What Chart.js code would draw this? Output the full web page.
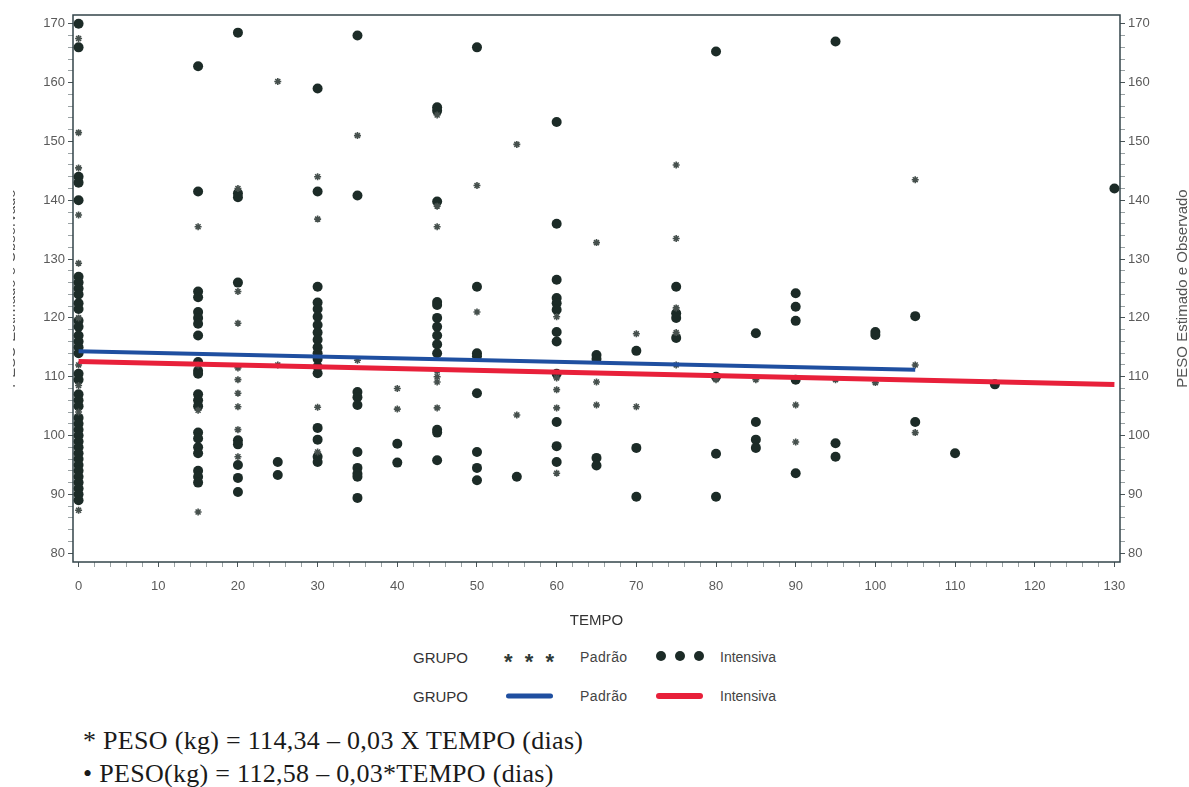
<!DOCTYPE html>
<html>
<head>
<meta charset="utf-8">
<script src="https://cdn.jsdelivr.net/npm/chart.js@4.4.0/dist/chart.umd.min.js"></script>
<style>
  body { margin: 0; background: #fff; width: 1189px; height: 787px; overflow: hidden; position: relative;
         font-family: "Liberation Sans", Arial, sans-serif; }
  #wrap { position: absolute; left: 0; top: 0; width: 1189px; height: 640px; }
  .lg { position: absolute; color: #333; line-height: 1; white-space: nowrap; transform: translateY(-50%); }
  .grupo { font-size: 15px; }
  .nome { font-size: 14px; color: #444; }
  .pad { letter-spacing: 0.4px; }
  .sym { font-size: 22px; font-weight: bold; color: #2f3a37; }
  .dot { position: absolute; width: 10px; height: 10px; border-radius: 50%; background: #1c2b27; transform: translate(-50%, -50%); }
  .ln { position: absolute; transform: translateY(-50%); border-radius: 3px; }
  .eq { position: absolute; left: 83px; font-family: "Liberation Serif", "Times New Roman", serif; font-size: 26px;
        letter-spacing: 0.3px; color: #1a1a1a; line-height: 1; transform: translateY(-50%); white-space: nowrap; }
</style>
</head>
<body>
<div id="wrap"><canvas id="grafico" width="1189" height="640"></canvas></div>

<!-- legenda -->
<div class="lg grupo" style="left:413px; top:657px;">GRUPO</div>
<div class="lg sym" style="left:504px; top:662px;">*&nbsp;&nbsp;*&nbsp;&nbsp;*</div>
<div class="lg nome pad" style="left:580px; top:657px;">Padrão</div>
<div class="dot" style="left:661px; top:656px;"></div>
<div class="dot" style="left:680px; top:656px;"></div>
<div class="dot" style="left:699px; top:656px;"></div>
<div class="lg nome" style="left:720px; top:657px;">Intensiva</div>

<div class="lg grupo" style="left:413px; top:696px;">GRUPO</div>
<div class="ln" style="left:506px; top:696px; width:47px; height:5px; background:#1f4fa0;"></div>
<div class="lg nome pad" style="left:580px; top:696px;">Padrão</div>
<div class="ln" style="left:656px; top:696px; width:47px; height:6px; background:#e8203a;"></div>
<div class="lg nome" style="left:720px; top:696px;">Intensiva</div>

<div class="eq" style="top:741px;">* PESO (kg) = 114,34 – 0,03 X TEMPO (dias)</div>
<div class="eq" style="top:774px;">• PESO(kg) = 112,58 – 0,03*TEMPO (dias)</div>

<script>
// Tempos observados (dias)
const tempos = [0, 15, 20, 25, 30, 35, 40, 45, 50, 55, 60, 65, 70, 75, 80, 85, 90, 95, 100, 105, 110, 115, 130];

// PESO observado, grupo Padrão (um vetor por tempo)
const pesoPadrao = [
    [167.5, 151.5, 145.5, 137.5, 129.3, 120, 112, 108.5, 104, 87.3],
    [135.5, 112, 104.3, 87],
    [142, 124.5, 119.1, 111.5, 109.5, 107.2, 104.9, 101, 96.4],
    [160.2, 112],
    [144, 136.8, 104.8, 97.2],
    [151, 112.8],
    [108, 104.5],
    [154.5, 139, 135.5, 111, 110, 109.1, 104.7],
    [142.5, 121],
    [149.5, 103.5],
    [120.2, 109.8, 107.8, 104.7, 93.6],
    [132.8, 109.1, 105.2],
    [117.3, 104.9],
    [146, 133.5, 121.7, 117.5, 112],
    [109.5],
    [109.5],
    [105.2, 98.9],
    [109.5],
    [109],
    [143.5, 112, 100.5],
    [],
    [],
    []
];

// PESO observado, grupo Intensiva
const pesoIntensiva = [
    [170, 166, 144, 143, 140, 127, 126, 125, 124, 122.5, 121.5, 119.5, 118.5, 117, 116, 115, 114, 110.5, 109.5,
     107, 106, 105, 103, 102, 101, 100, 99, 98, 97, 96, 95, 94, 93, 92, 91, 90, 89],
    [162.8, 141.5, 124.5, 123.5, 121, 120, 119, 117, 112.5, 111, 110.5, 107, 106, 105, 100.5, 99.5, 98, 97, 94, 93, 92],
    [168.5, 141.2, 140.5, 126, 99.2, 98.5, 95, 92.8, 90.4],
    [95.5, 93.3],
    [159, 141.5, 125.3, 122.6, 121.5, 120.2, 118.8, 117.5, 116.3, 115, 114, 113, 111.7, 110.6, 101.3, 99.3, 96.4, 95.5],
    [168, 140.8, 107.4, 106.5, 105.2, 97.2, 94.5, 93.5, 93, 89.4],
    [98.6, 95.4],
    [155.8, 155.2, 139.8, 122.7, 122.2, 120, 118.5, 117, 115.5, 114, 101, 100.5, 95.8],
    [166, 125.3, 114, 113.5, 107.2, 97.2, 94.5, 92.4],
    [93],
    [153.3, 136, 126.5, 123.4, 122.5, 121.4, 117.6, 116, 110.5, 102.3, 98.2, 95.5],
    [113.7, 113, 96.2, 94.9],
    [114.4, 97.9, 89.6],
    [125.3, 120.8, 120, 116.6],
    [165.3, 110, 96.9, 89.6],
    [117.4, 102.3, 99.3, 97.9],
    [124.2, 121.9, 119.5, 109.5, 93.6],
    [167, 98.7, 96.4],
    [117.6, 117.1],
    [120.3, 102.3],
    [97],
    [108.7],
    [142]
];

// Retas estimadas
const retaPadraoTempo = [0, 105];
const retaPadraoPeso = [114.34, 111.19];
const retaIntensivaTempo = [0, 130];
const retaIntensivaPeso = [112.58, 108.68];

// Rótulos dos eixos
const xTicks = [0, 10, 20, 30, 40, 50, 60, 70, 80, 90, 100, 110, 120, 130];
const yTicks = [80, 90, 100, 110, 120, 130, 140, 150, 160, 170];
const tituloY = 'PESO Estimado e Observado';

const fonte = '"Liberation Sans", Arial, sans-serif';

function pontos(pesos) {
    const out = [];
    pesos.forEach((lista, i) => lista.forEach(p => out.push({ x: tempos[i], y: p })));
    return out;
}

function reta(xs, ys) {
    return xs.map((x, i) => ({ x, y: ys[i] }));
}

// ticks menores a cada 2 unidades
function menores(a, b) {
    return scale => {
        const t = [];
        for (let v = a; v <= b; v += 2) t.push({ value: v });
        scale.ticks = t;
    };
}

const gradeEixo = {
    drawOnChartArea: false,
    drawTicks: true,
    tickLength: 5,
    tickColor: c => (c.tick && c.tick.value % 10 === 0) ? '#4a5558' : '#9aa2a4',
    tickWidth: 1
};

const moldura = {
    id: 'moldura',
    beforeDatasetsDraw(chart) {
        const { ctx, chartArea: a } = chart;
        ctx.save();
        ctx.strokeStyle = '#33444a';
        ctx.lineWidth = 1.5;
        ctx.strokeRect(a.left, a.top, a.right - a.left, a.bottom - a.top);
        ctx.restore();
    }
};

const titulosLaterais = {
    id: 'titulosLaterais',
    afterDraw(chart) {
        const { ctx, chartArea: a } = chart;
        const cy = (a.top + a.bottom) / 2;
        ctx.save();
        ctx.font = '15px ' + fonte;
        ctx.fillStyle = '#555';
        ctx.textAlign = 'center';
        ctx.textBaseline = 'middle';
        ctx.save();
        ctx.translate(1183, cy);
        ctx.rotate(-Math.PI / 2);
        ctx.fillText(tituloY, 0, 0);
        ctx.restore();
        // título da esquerda aparece cortado
        ctx.save();
        ctx.beginPath();
        ctx.rect(13, 0, 30, chart.height);
        ctx.clip();
        ctx.translate(11, cy);
        ctx.rotate(-Math.PI / 2);
        ctx.fillText(tituloY, 0, 0);
        ctx.restore();
        ctx.restore();
    }
};

const eixoY = (pos, largura) => ({
    type: 'linear',
    position: pos,
    min: 78.5,
    max: 171.5,
    afterBuildTicks: menores(80, 170),
    afterFit: s => { s.width = largura; },
    ticks: {
        autoSkip: false,
        padding: 3,
        color: '#5a5a5a',
        font: { family: fonte, size: 13 },
        callback: v => yTicks.includes(v) ? String(v) : ''
    },
    grid: gradeEixo,
    border: { display: false }
});

const ctx = document.getElementById('grafico').getContext('2d');

new Chart(ctx, {
    type: 'scatter',
    data: {
        datasets: [
            {
                label: 'Padrão (estimado)',
                data: reta(retaPadraoTempo, retaPadraoPeso),
                showLine: true,
                borderColor: '#1f4fa0',
                borderWidth: 4,
                pointRadius: 0,
                order: 0
            },
            {
                label: 'Intensiva (estimado)',
                data: reta(retaIntensivaTempo, retaIntensivaPeso),
                showLine: true,
                borderColor: '#e8203a',
                borderWidth: 5,
                pointRadius: 0,
                order: 0
            },
            {
                label: 'Padrão',
                data: pontos(pesoPadrao),
                pointStyle: 'star',
                pointRadius: 3.5,
                borderWidth: 1.6,
                borderColor: '#46504d',
                backgroundColor: '#46504d',
                order: 1
            },
            {
                label: 'Intensiva',
                data: pontos(pesoIntensiva),
                pointStyle: 'circle',
                pointRadius: 5,
                borderWidth: 0,
                backgroundColor: '#1c2b27',
                order: 1
            }
        ]
    },
    options: {
        responsive: false,
        animation: false,
        layout: { padding: { top: 15, left: 0, right: 0, bottom: 0 } },
        plugins: {
            legend: { display: false },
            tooltip: { enabled: false }
        },
        scales: {
            x: {
                type: 'linear',
                position: 'bottom',
                min: -0.7,
                max: 130.7,
                afterBuildTicks: menores(0, 130),
                afterFit: s => { s.height = 78; },
                ticks: {
                    autoSkip: false,
                    maxRotation: 0,
                    padding: 12,
                    color: '#5a5a5a',
                    font: { family: fonte, size: 13 },
                    callback: v => xTicks.includes(v) ? String(v) : ''
                },
                grid: gradeEixo,
                border: { display: false },
                title: {
                    display: true,
                    text: 'TEMPO',
                    color: '#333',
                    font: { family: fonte, size: 15 },
                    padding: { top: 0, bottom: 10 }
                }
            },
            y: eixoY('left', 73),
            y2: eixoY('right', 69)
        }
    },
    plugins: [moldura, titulosLaterais]
});
</script>
</body>
</html>
